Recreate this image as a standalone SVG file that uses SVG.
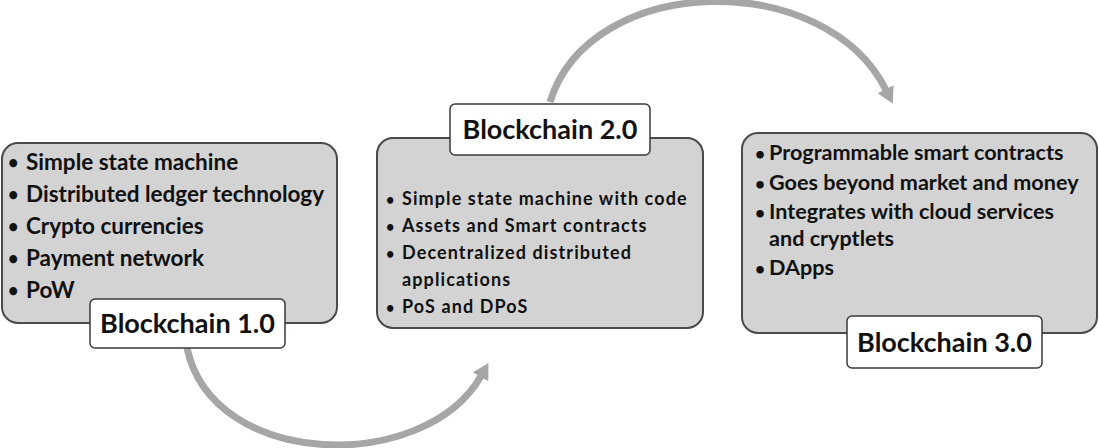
<svg xmlns="http://www.w3.org/2000/svg" width="1099" height="448" viewBox="0 0 1099 448">
<style>
.box{fill:#d3d3d3;stroke:#4a4a4a;stroke-width:2}
.lbl{fill:#fff;stroke:#3a3a3a;stroke-width:1.5}
.t{font-family:Lato,"Liberation Sans",sans-serif;font-weight:bold;fill:#111}
.b1{font-size:22.5px}
.b2{font-size:18px;letter-spacing:1.1px}
.b3{font-size:21.6px}
.bu{font-size:0.8em}
.title{font-size:27px}
.arc{fill:none;stroke:#a6a6a6;stroke-width:7}
</style>
<defs>
<marker id="ah" viewBox="0 0 16 18" refX="1" refY="9" markerWidth="16" markerHeight="18" orient="auto" markerUnits="userSpaceOnUse">
<path d="M0,0 L16,9 L0,18 z" fill="#a6a6a6"/>
</marker>
</defs>
<rect width="1099" height="448" fill="#fff"/>
<g id="connectors">
<path class="arc" d="M550,102 C590,-28 825,-32 886,90" marker-end="url(#ah)"/>
<path class="arc" d="M187,348 C213,470 425,474 481,376" marker-end="url(#ah)"/>
</g>
<g id="node-bc1">
<rect class="box" x="2" y="143" width="335" height="180" rx="16"/>
<g class="t b1">
<text class="bu" x="8" y="169">•</text><text x="26" y="170">Simple state machine</text>
<text class="bu" x="8" y="201">•</text><text x="26" y="202">Distributed ledger technology</text>
<text class="bu" x="8" y="233">•</text><text x="26" y="234">Crypto currencies</text>
<text class="bu" x="8" y="265">•</text><text x="26" y="266">Payment network</text>
<text class="bu" x="8" y="297">•</text><text x="26" y="298">PoW</text>
</g>
<rect class="lbl" x="90" y="299" width="195" height="49" rx="5"/>
<text class="t title" x="187.5" y="333" text-anchor="middle">Blockchain 1.0</text>
</g>
<g id="node-bc2">
<rect class="box" x="377" y="138" width="326" height="190" rx="16"/>
<g class="t b2">
<text class="bu" x="386" y="205">•</text><text x="402" y="205">Simple state machine with code</text>
<text class="bu" x="386" y="232">•</text><text x="402" y="232">Assets and Smart contracts</text>
<text class="bu" x="386" y="259">•</text><text x="402" y="259">Decentralized distributed</text>
<text x="402" y="286">applications</text>
<text class="bu" x="386" y="313">•</text><text x="402" y="313">PoS and DPoS</text>
</g>
<rect class="lbl" x="450" y="104" width="200" height="51" rx="5"/>
<text class="t title" x="550" y="139" text-anchor="middle">Blockchain 2.0</text>
</g>
<g id="node-bc3">
<rect class="box" x="742" y="133" width="355" height="200" rx="16"/>
<g class="t b3">
<text class="bu" x="755" y="160">•</text><text x="769" y="160">Programmable smart contracts</text>
<text class="bu" x="755" y="190">•</text><text x="769" y="190">Goes beyond market and money</text>
<text class="bu" x="755" y="219">•</text><text x="769" y="219">Integrates with cloud services</text>
<text x="769" y="246">and cryptlets</text>
<text class="bu" x="755" y="275">•</text><text x="769" y="275">DApps</text>
</g>
<rect class="lbl" x="847" y="316" width="195" height="52" rx="5"/>
<text class="t title" x="944.5" y="352" text-anchor="middle">Blockchain 3.0</text>
</g>
</svg>
